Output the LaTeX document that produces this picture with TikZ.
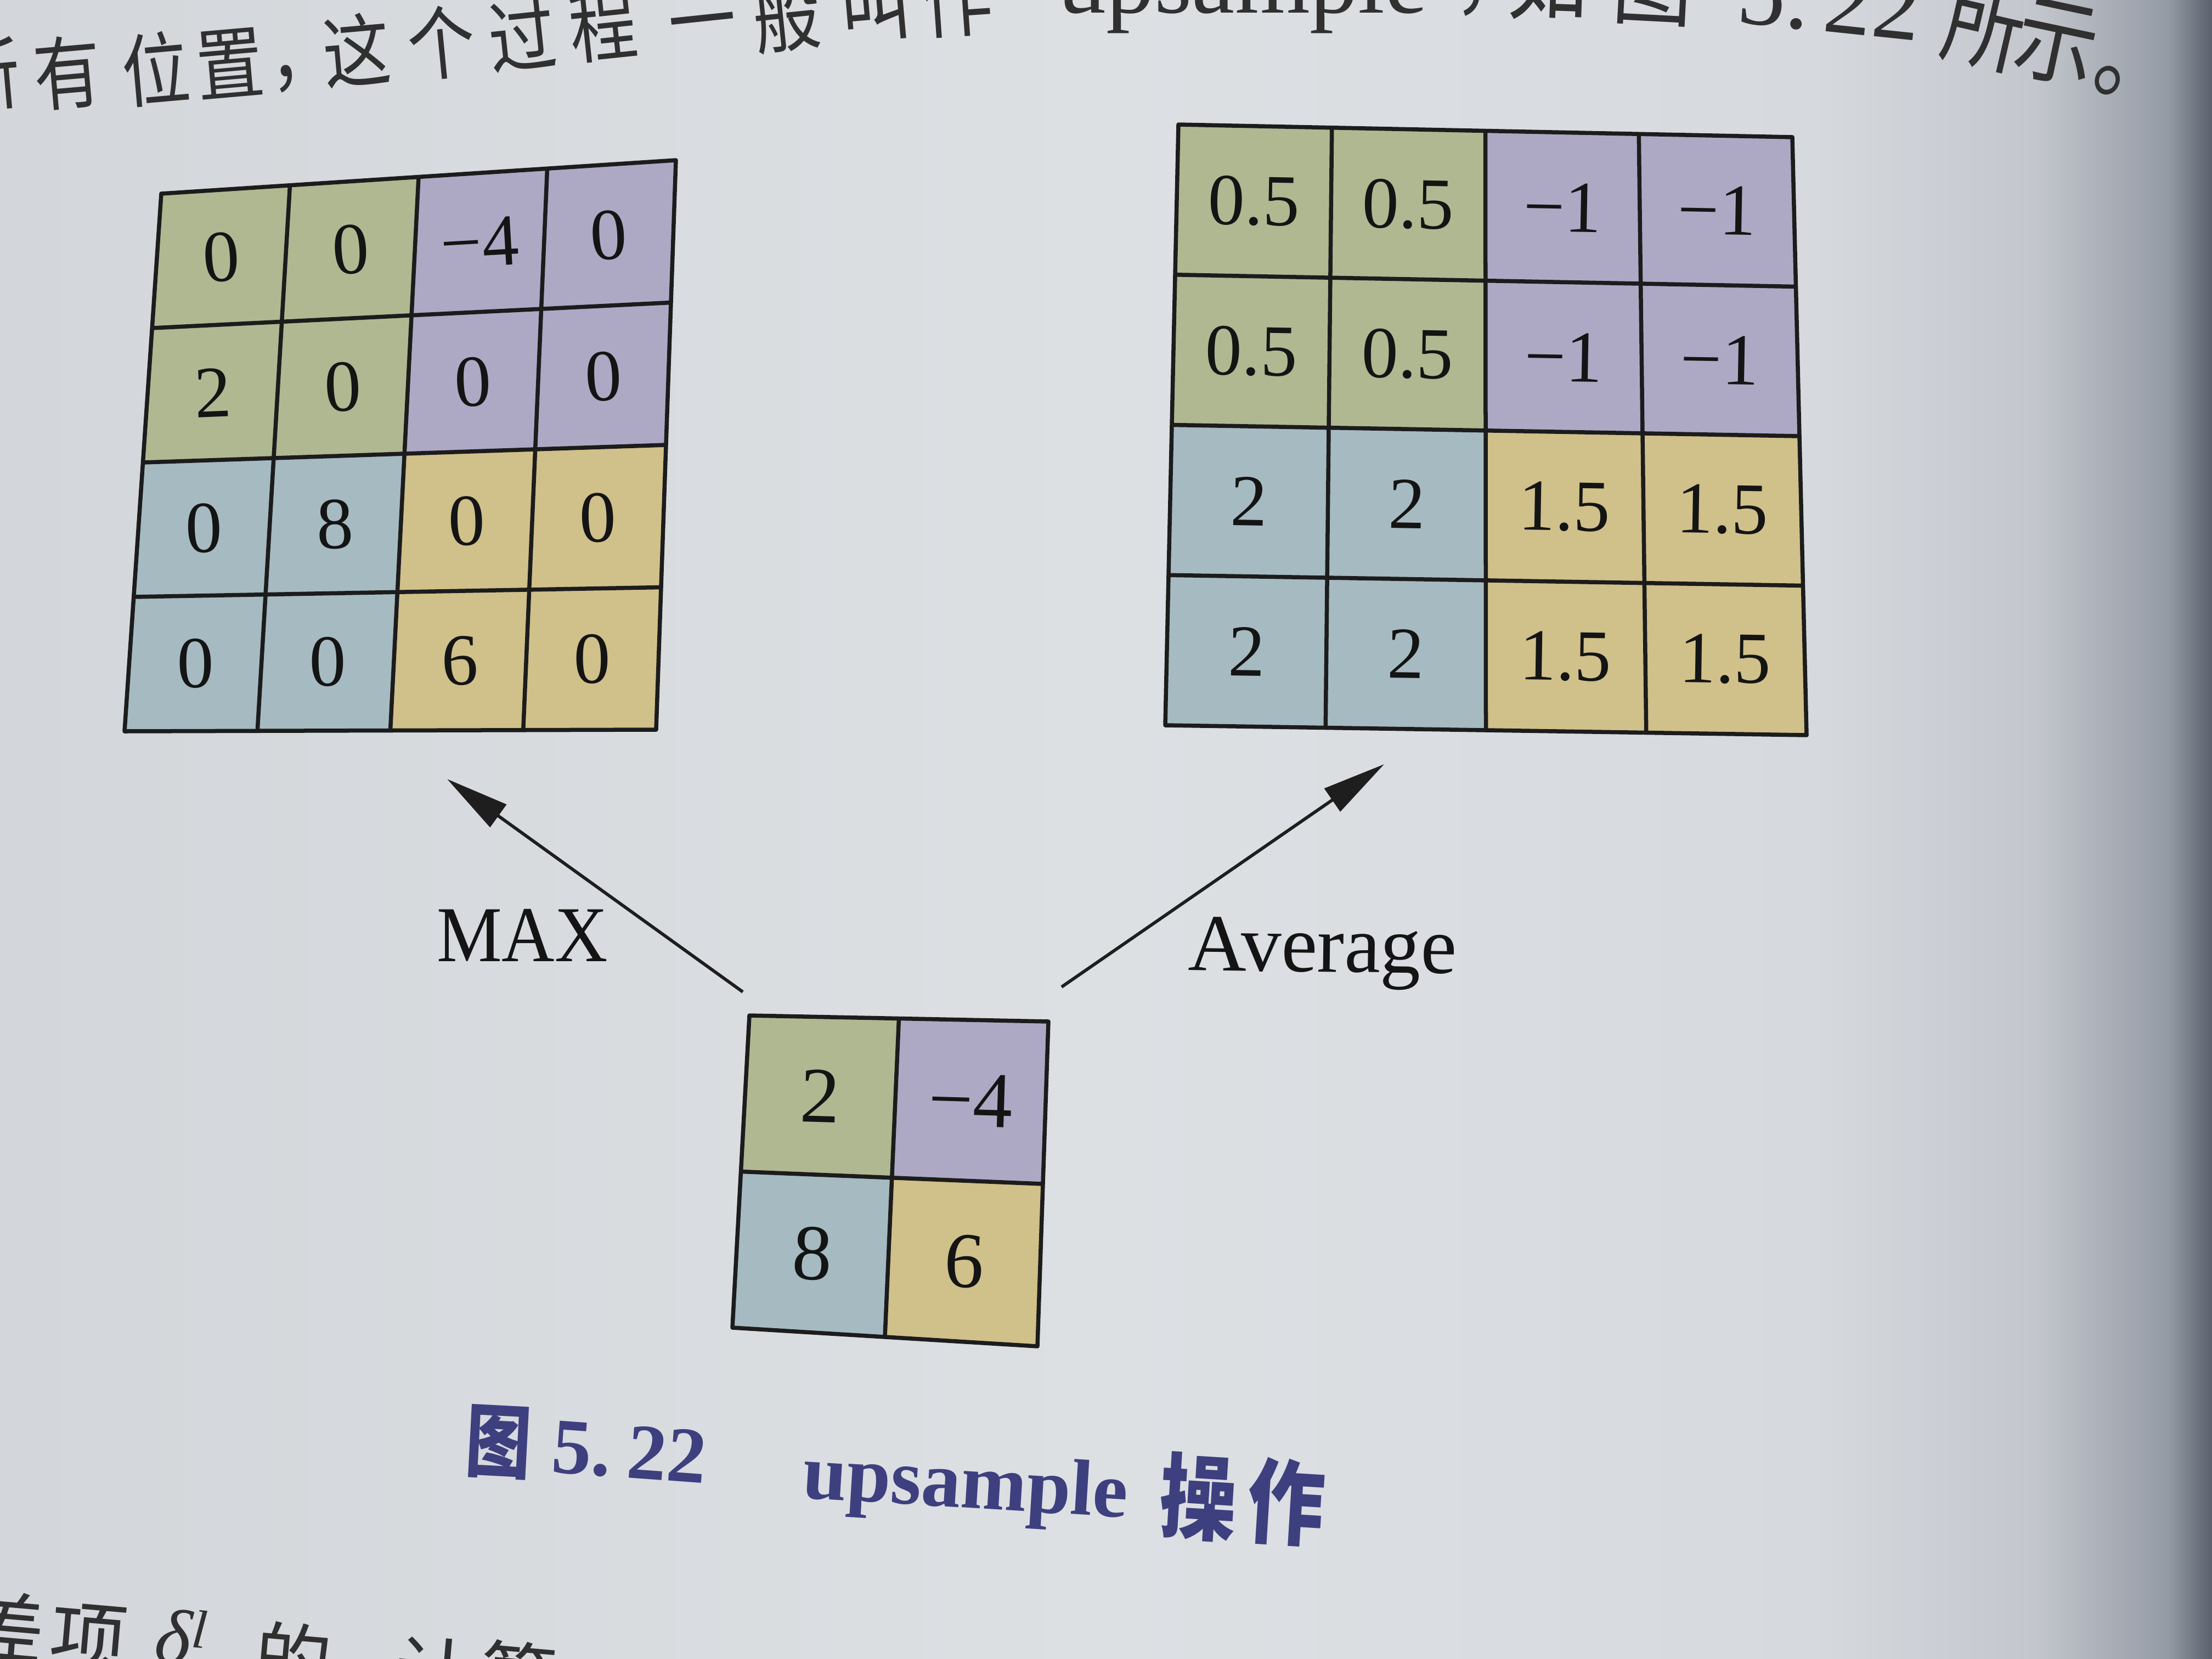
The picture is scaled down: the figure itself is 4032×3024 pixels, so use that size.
\documentclass[tikz,border=0pt]{standalone}
\usepackage{fontspec}
\setmainfont{Liberation Serif}
\newfontfamily\cjk{Noto Sans CJK SC}
\usetikzlibrary{calc,arrows.meta}
\definecolor{pL}{HTML}{D3D6DA}
\definecolor{pM}{HTML}{DDE0E3}
\definecolor{pM2}{HTML}{D6D9DE}
\definecolor{pR1}{HTML}{C3C7CD}
\definecolor{pR2}{HTML}{959BA5}
\definecolor{pR3}{HTML}{5A606C}
\pgfdeclarehorizontalshading{paper}{100bp}{color(0bp)=(pL); color(25bp)=(pL); color(50bp)=(pM); color(66bp)=(pM2); color(71bp)=(pR1); color(74bp)=(pR2); color(75bp)=(pR3); color(100bp)=(pR3)}
\definecolor{cq0}{HTML}{B0B892}
\definecolor{cq1}{HTML}{ADA9C5}
\definecolor{cq2}{HTML}{A6BAC2}
\definecolor{cq3}{HTML}{D0C08A}
\definecolor{gridc}{HTML}{1C1C1C}
\definecolor{numc}{HTML}{141414}
\definecolor{bodyc}{HTML}{303030}
\definecolor{capc}{HTML}{3E3F7E}
\definecolor{arrc}{HTML}{1E1E1E}
% lattice of a four-cornered grid
\newcommand\makelattice[2]{%
  \foreach \ii in {0,...,#2}{\foreach \jj in {0,...,#2}{%
    \pgfmathsetmacro\uu{\ii/#2}\pgfmathsetmacro\vv{\jj/#2}%
    \coordinate (tmpA) at ($(#1-TL)!\uu!(#1-TR)$);
    \coordinate (tmpB) at ($(#1-BL)!\uu!(#1-BR)$);
    \coordinate (#1-\ii-\jj) at ($(tmpA)!\vv!(tmpB)$);
  }}%
  \pgfmathtruncatemacro\nm{#2-1}%
  \foreach \ii in {0,...,\nm}{\foreach \jj in {0,...,\nm}{%
    \pgfmathsetmacro\uu{(\ii+0.5)/#2}\pgfmathsetmacro\vv{(\jj+0.5)/#2}%
    \coordinate (tmpA) at ($(#1-TL)!\uu!(#1-TR)$);
    \coordinate (tmpB) at ($(#1-BL)!\uu!(#1-BR)$);
    \coordinate (#1-m-\ii-\jj) at ($(tmpA)!\vv!(tmpB)$);
  }}}
\newcommand\fillcells[2]{%
  \foreach \ii in {1,...,#2}{\foreach \jj in {1,...,#2}{%
    \pgfmathtruncatemacro\ia{\ii-1}\pgfmathtruncatemacro\ja{\jj-1}%
    \pgfmathtruncatemacro\qq{(2*\ii>#2)+2*(2*\jj>#2)}%
    \fill[cq\qq] (#1-\ia-\ja) -- (#1-\ii-\ja) -- (#1-\ii-\jj) -- (#1-\ia-\jj) -- cycle;
  }}}
\newcommand\drawgridlines[2]{%
  \pgfmathtruncatemacro\nm{#2-1}%
  \foreach \kk in {1,...,\nm}{%
    \draw[gline] (#1-\kk-0) -- (#1-\kk-#2);
    \draw[gline] (#1-0-\kk) -- (#1-#2-\kk);
  }%
  \draw[gline] (#1-0-0) -- (#1-#2-0) -- (#1-#2-#2) -- (#1-0-#2) -- cycle;}
\begin{document}
\begin{tikzpicture}[x=0.01cm,y=-0.01cm,
  gline/.style={line width=0.075cm, draw=gridc, line join=round},
  num/.style={inner sep=0pt, text=numc, font=\fontsize{38pt}{40pt}\selectfont},
  snum/.style={inner sep=0pt, text=numc, font=\fontsize{41pt}{43pt}\selectfont},
  lbl/.style={inner sep=0pt, text=numc},
  arr/.style={draw=arrc, line width=0.058cm, -{Triangle[length=1.15cm,width=0.5cm]}},
  body/.style={inner sep=0pt, text=bodyc},
  capt/.style={inner sep=0pt, text=capc}]
\useasboundingbox (0,0) rectangle (4032,3024);
\clip (0,0) rectangle (4032,3024);
\shade[shading=paper] (0,0) rectangle (4032,3024);

% ---------- left grid (MAX) ----------
\coordinate (L-TL) at (294,353);
\coordinate (L-TR) at (1232,292);
\coordinate (L-BL) at (227,1333);
\coordinate (L-BR) at (1196,1330);
\makelattice{L}{4}
\fillcells{L}{4}
\drawgridlines{L}{4}
\foreach \val/\ii/\jj/\ang in {0/0/0/3.3, 0/1/0/3.3, −4/2/0/3.3, 0/3/0/3.3,
  2/0/1/2.4, 0/1/1/2.4, 0/2/1/2.4, 0/3/1/2.4,
  0/0/2/1.5, 8/1/2/1.5, 0/2/2/1.5, 0/3/2/1.5,
  0/0/3/0.6, 0/1/3/0.6, 6/2/3/0.6, 0/3/3/0.6}
  \node[num, rotate=\ang] (L-n\ii\jj) at (L-m-\ii-\jj) {\val};

% ---------- right grid (Average) ----------
\coordinate (R-TL) at (2148,227);
\coordinate (R-TR) at (3267,250);
\coordinate (R-BL) at (2124,1322);
\coordinate (R-BR) at (3293,1340);
\makelattice{R}{4}
\fillcells{R}{4}
\drawgridlines{R}{4}
\foreach \val/\ii/\jj/\ang in {0.5/0/0/-1.1, 0.5/1/0/-1.1, −1/2/0/-1.1, −1/3/0/-1.1,
  0.5/0/1/-1, 0.5/1/1/-1, −1/2/1/-1, −1/3/1/-1,
  2/0/2/-1, 2/1/2/-1, 1.5/2/2/-1, 1.5/3/2/-1,
  2/0/3/-0.9, 2/1/3/-0.9, 1.5/2/3/-0.9, 1.5/3/3/-0.9}
  \node[num, rotate=\ang] (R-n\ii\jj) at (R-m-\ii-\jj) {\val};

% ---------- small grid ----------
\coordinate (S-TL) at (1366,1851);
\coordinate (S-TR) at (1911,1862);
\coordinate (S-BL) at (1335,2420);
\coordinate (S-BR) at (1891,2454);
\makelattice{S}{2}
\fillcells{S}{2}
\drawgridlines{S}{2}
\foreach \val/\ii/\jj/\ang in {2/0/0/-1.7, −4/1/0/-1.7, 8/0/1/-2.9, 6/1/1/-2.9}
  \node[snum, rotate=\ang] (S-n\ii\jj) at (S-m-\ii-\jj) {\val};

% ---------- arrows and labels ----------
\coordinate (maxtail) at (1354,1808);
\coordinate (maxtip) at (815,1420);
\coordinate (avgtail) at (1935,1799);
\coordinate (avgtip) at (2523,1393);
\draw[arr] (maxtail) -- (maxtip);
\draw[arr] (avgtail) -- (avgtip);
\node[lbl, anchor=base, yscale=1.08, font=\fontsize{38pt}{40pt}\selectfont] (max) at (952,1752) {MAX};
\node[lbl, anchor=base west, rotate=-0.8, font=\fontsize{42pt}{44pt}\selectfont] (avg) at (2165,1768) {Average};

% ---------- caption ----------
\node[capt, anchor=base west, rotate=-3, yscale=1.22, font=\cjk\bfseries\fontsize{34pt}{34pt}\selectfont] (capfig) at (846,2678) {图};
\node[capt, anchor=base west, rotate=-4.2, font=\bfseries\fontsize{41pt}{41pt}\selectfont] (capnum) at (1003,2683) {5.\kern0.2em 22};
\node[capt, anchor=base west, rotate=-3.5, font=\bfseries\fontsize{41pt}{41pt}\selectfont] (capup) at (1461,2730) {upsample};
\node[capt, anchor=base west, rotate=-3.5, yscale=1.2, font=\cjk\bfseries\fontsize{40pt}{40pt}\selectfont] (capop) at (2110,2788) {操\kern0.14em 作};

% ---------- running text at the top (cut by the page edge) ----------
\foreach \ch/\xx/\yy/\ang/\sz [count=\k] in {所/-20/190/5/35, 有/128/187/5/35, 位/289/181/5/35,
  置/424/170/5/35, ，/555/150/5/35, 这/655/147/5/35, 个/810/133/5.5/35, 过/958/120/6/35,
  程/1105/100/6/35, 一/1286/90/6/35, 般/1440/83/6/35, 叫/1600/62/5/37, 作/1748/55/4/37,
  ，/2722/12/-1/42, 如/2820/23/-2/42, 图/3010/32/-3/42, 所/3603/110/-13/42,
  示/3737/137/-12/42, 。/3880/175/-17/42}
  \node[body, anchor=base, rotate=\ang, yscale=1.18, font=\cjk\fontsize{\sz pt}{\sz pt}\selectfont] (top\k) at (\xx,\yy) {\ch};
\node[body, anchor=base west, font=\fontsize{50pt}{50pt}\selectfont] (topup) at (1928,23) {upsample};
\node[body, anchor=base west, rotate=-6, font=\fontsize{50pt}{50pt}\selectfont] (topnum) at (3163,40) {5.\kern0.15em 22};

% ---------- running text at the bottom (cut by the page edge) ----------
\foreach \ch/\xx/\yy [count=\k] in {差/17/2901, 项/167/2924, 的/540/2958, 计/796/2985, 算/951/2991}
  \node[body, anchor=north, rotate=-5, font=\cjk\fontsize{40pt}{40pt}\selectfont] (bot\k) at (\xx,\yy) {\ch};
\node[body, anchor=north, rotate=-5, font=\fontsize{40pt}{40pt}\selectfont] (delta) at (335,2932) {\itshape δ\textsuperscript{l}};
\end{tikzpicture}
\end{document}
